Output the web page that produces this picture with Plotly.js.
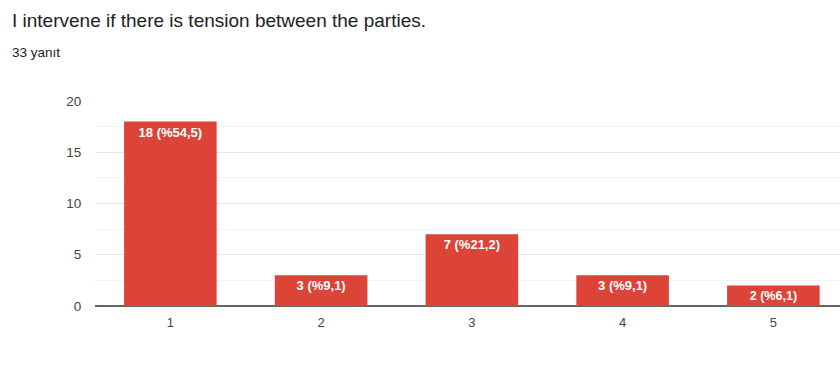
<!DOCTYPE html>
<html>
<head>
<meta charset="utf-8">
<script src="https://cdn.plot.ly/plotly-3.0.1.min.js"></script>
<style>html,body{margin:0;padding:0;background:#fff;}#chart{width:840px;height:388px;}</style>
</head>
<body>
<div id="chart"></div>
<script>
const titleText = "I intervene if there is tension between the parties.";
const subtitleText = "33 yanıt";
const categories = [1, 2, 3, 4, 5];
const categoryLabels = ["1", "2", "3", "4", "5"];
const counts = [18, 3, 7, 3, 2];
const barLabels = ["18 (%54,5)", "3 (%9,1)", "7 (%21,2)", "3 (%9,1)", "2 (%6,1)"];

const L = 95, W = 840;
const FONT = 'Arial, "Liberation Sans", sans-serif';
const trace = {
  type: 'bar',
  x: categories,
  y: counts,
  text: barLabels,
  textposition: 'inside',
  insidetextanchor: 'end',
  textangle: 0,
  textfont: {family: FONT, size: 13, color: '#ffffff', weight: 'bold'},
  marker: {color: '#db4437', line: {width: 0}},
  hoverinfo: 'none',
  cliponaxis: false
};
const layout = {
  width: 840, height: 388,
  margin: {l: L, r: 0, t: 101, b: 82, pad: 0},
  paper_bgcolor: '#ffffff', plot_bgcolor: '#ffffff',
  showlegend: false,
  bargap: 0.386,
  font: {family: FONT, size: 13, color: '#444444'},
  xaxis: {
    range: [0.5, 5.442],
    tickmode: 'array', tickvals: categories, ticktext: categoryLabels,
    showgrid: false, zeroline: false, showline: false,
    ticks: 'outside', ticklen: 4, tickcolor: 'rgba(0,0,0,0)',
    tickfont: {family: FONT, size: 13, color: '#444444'}
  },
  yaxis: {
    range: [0, 20], dtick: 5, tick0: 0,
    showgrid: true, gridcolor: '#e8e8e8', gridwidth: 1,
    minor: {dtick: 2.5, showgrid: true, gridcolor: '#f4f4f4', gridwidth: 1},
    zeroline: true, zerolinecolor: '#666666', zerolinewidth: 1.5,
    showline: false,
    ticks: 'outside', ticklen: 10, tickcolor: 'rgba(0,0,0,0)',
    tickfont: {family: FONT, size: 13.5, color: '#444444'}
  },
  annotations: [
    {text: titleText, xref: 'paper', yref: 'paper', x: (10 - L) / (W - L), y: 1 + (101 - 20) / 205,
     xanchor: 'left', yanchor: 'middle', showarrow: false,
     font: {family: FONT, size: 19, color: '#212121'}},
    {text: subtitleText, xref: 'paper', yref: 'paper', x: (10 - L) / (W - L), y: 1 + (101 - 52) / 205,
     xanchor: 'left', yanchor: 'middle', showarrow: false,
     font: {family: FONT, size: 13.5, color: '#212121'}}
  ]
};
Plotly.newPlot('chart', [trace], layout, {displayModeBar: false, staticPlot: true});
</script>
</body>
</html>
